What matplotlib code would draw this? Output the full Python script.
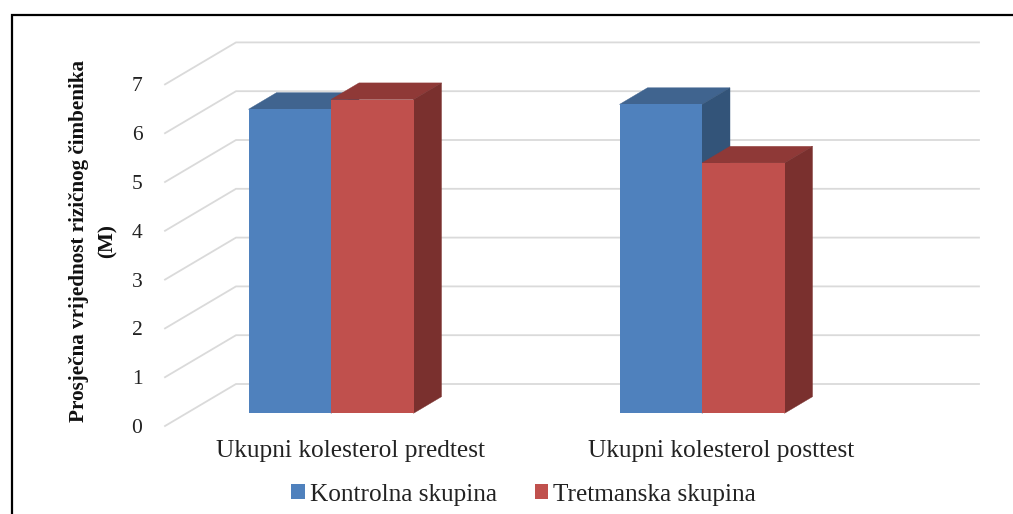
import numpy as np
import matplotlib
matplotlib.use('Agg')
import matplotlib.pyplot as plt
from matplotlib.patches import Polygon, Patch
from matplotlib.lines import Line2D

categories = ['Ukupni kolesterol predtest', 'Ukupni kolesterol posttest']
kontrolna = [6.23, 6.33]
tretmanska = [6.43, 5.13]
series_names = ['Kontrolna skupina', 'Tretmanska skupina']
y_ticks = [0, 1, 2, 3, 4, 5, 6, 7]
y_label = 'Prosječna vrijednost rizičnog čimbenika\n(M)'

W, H = 1013, 514
UNIT_X = 371.0   # px per category
UNIT_Y = 48.8    # px per value
X0, Y0 = 331.0, 413.3  # px position of category 0, value 0

plt.rcParams['font.family'] = ['Liberation Serif', 'DejaVu Serif']
fig = plt.figure(figsize=(W / 100, H / 100), dpi=100, facecolor='white')
ax = fig.add_axes([0, 0, 1, 1])
ax.set_xlim(-X0 / UNIT_X, (W - X0) / UNIT_X)
ax.set_ylim((Y0 - H) / UNIT_Y, Y0 / UNIT_Y)
ax.axis('off')

bar_w = 82.5 / UNIT_X
dx = 28.0 / UNIT_X
dy = 16.6 / UNIT_Y

# 3d box floor/wall grid
wall_left = (165 - X0) / UNIT_X
wall_back = (236 - X0) / UNIT_X
wall_right = (979 - X0) / UNIT_X
y_front = -12.7 / UNIT_Y
y_back = 29.3 / UNIT_Y
for v in y_ticks:
    ax.plot([wall_left, wall_back, wall_right], [v + y_front, v + y_back, v + y_back],
            color='#DADADA', lw=1.3, solid_joinstyle='miter', zorder=1)
    ax.text((137 - X0) / UNIT_X, v + y_front - 2.5 / UNIT_Y, str(v), ha='center', va='center',
            fontsize=15.5, color='#222222')


def box(x_left, val, front, top, side, z):
    ax.bar(x_left, val, width=bar_w, align='edge', color=front, linewidth=0, zorder=z + 0.01)
    ax.add_patch(Polygon([(x_left, val), (x_left + dx, val + dy),
                          (x_left + bar_w + dx, val + dy), (x_left + bar_w, val)],
                         closed=True, fc=top, ec=top, lw=0.3, zorder=z))
    ax.add_patch(Polygon([(x_left + bar_w, 0), (x_left + bar_w + dx, dy),
                          (x_left + bar_w + dx, val + dy), (x_left + bar_w, val)],
                         closed=True, fc=side, ec=side, lw=0.3, zorder=z))


for i in range(len(categories)):
    box(i - bar_w, kontrolna[i], '#4F81BD', '#40648F', '#335479', 2 + i * 0.1)
    box(i, tretmanska[i], '#C0504D', '#8F3937', '#7A302E', 3 + i * 0.1)
    ax.text(i + 19 / UNIT_X, -38 / UNIT_Y, categories[i], ha='center', va='center',
            fontsize=18.3, color='#222222')

ax.text((79 - X0) / UNIT_X, (Y0 - 241) / UNIT_Y, y_label.split('\n')[0], rotation=90,
        ha='center', va='center', fontsize=15.2, fontweight='bold', color='#111111')
ax.text((108 - X0) / UNIT_X, (Y0 - 241) / UNIT_Y, y_label.split('\n')[1], rotation=90,
        ha='center', va='center', fontsize=15.2, fontweight='bold', color='#111111')

handles = [Patch(fc='#4F81BD', ec='none'), Patch(fc='#C0504D', ec='none')]
fig.legend(handles, series_names, ncols=2, loc='center', bbox_to_anchor=(523.5 / W, 1 - 494.5 / H),
           frameon=False, fontsize=18.2, labelcolor='#222222', handlelength=0.52, handleheight=0.52,
           handletextpad=0.2, columnspacing=1.5)

# black frame, only top and left are visible in the crop
fig.add_artist(Line2D([11.8 / W, 11.8 / W, 1], [0, 1 - 15 / H, 1 - 15 / H], color='black', lw=1.6,
                      solid_joinstyle='miter'))

plt.savefig('out.png', dpi=100)
